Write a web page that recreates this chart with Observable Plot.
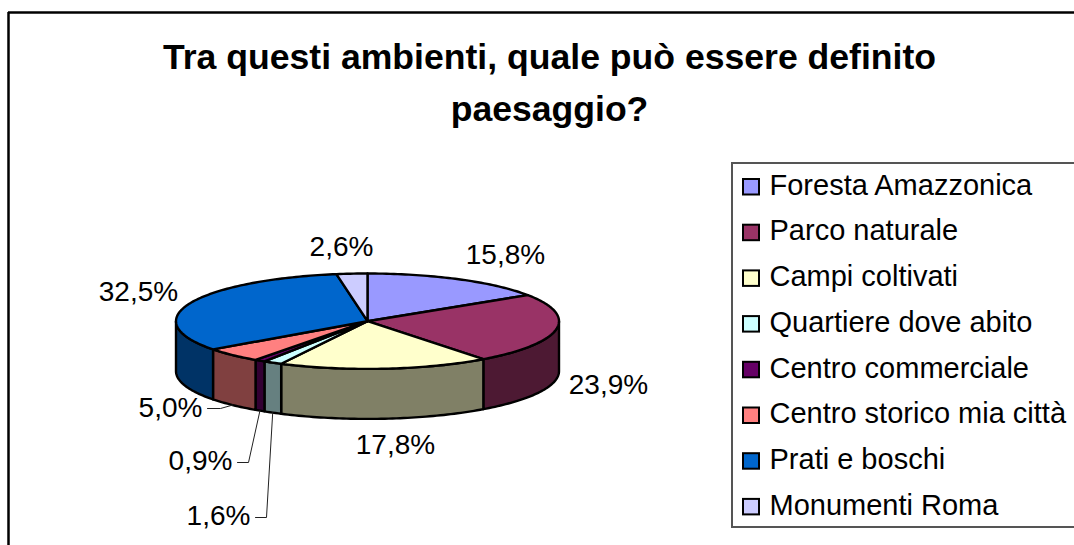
<!DOCTYPE html>
<html>
<head>
<meta charset="utf-8">
<script src="https://cdn.jsdelivr.net/npm/d3@7"></script>
<script src="https://cdn.jsdelivr.net/npm/@observablehq/plot@0.6"></script>
<style>
html,body{margin:0;padding:0;background:#fff;overflow:hidden}
svg{display:block}
</style>
</head>
<body>
<div id="chart"></div>
<script>
const titleLines = ["Tra questi ambienti, quale può essere definito", "paesaggio?"];
const categories = ["Foresta Amazzonica","Parco naturale","Campi coltivati","Quartiere dove abito","Centro commerciale","Centro storico mia città","Prati e boschi","Monumenti Roma"];
const values = [15.8, 23.9, 17.8, 1.6, 0.9, 5.0, 32.5, 2.6];
const topColors = ["#9999FF","#993366","#FFFFCC","#CCFFFF","#660066","#FF8080","#0066CC","#CCCCFF"];
const sideColors = ["#4D4D80","#4D1933","#808066","#668080","#330033","#804040","#003366","#666680"];

// layout of the picture (pixels)
const W = 1074, H = 545;
const pie = {cx: 367, cy: 320.7, rx: 191.5, ry: 47.7, depth: 50};
const labelX = [505, 608, 395, 218, 200, 170, 138, 341];
const labelY = [255, 385, 445, 516, 461, 408, 292, 247];
// leader elbow: [label end x, elbow x, y] for the three small slices that use one
const leaderElbows = {3: [255, 266, 517], 4: [237, 248, 462], 5: [207, 220, 408]};
const legendBox = {x1: 732, x2: 1090, y1: 163, y2: 527};
const legendRowY = i => 186 + i * 45.7;

const total = d3.sum(values);
const cum = d3.cumsum(values);
const start = i => (i === 0 ? 0 : cum[i - 1]) / total * 2 * Math.PI;
const end = i => cum[i] / total * 2 * Math.PI;
const px = t => pie.cx + pie.rx * Math.sin(t);
const py = (t, drop = 0) => pie.cy - pie.ry * Math.cos(t) + drop;
const arc = (a, b, drop = 0) => {
  const n = Math.max(2, Math.ceil((b - a) / 0.02));
  return d3.range(n + 1).map(k => {
    const t = a + (b - a) * k / n;
    return {x: px(t), y: py(t, drop)};
  });
};

const tops = [], sides = [];
values.forEach((v, i) => {
  const pts = [{x: pie.cx, y: pie.cy}, ...arc(start(i), end(i))];
  pts.forEach(p => tops.push({...p, name: categories[i], color: topColors[i]}));
  const a = Math.max(start(i), Math.PI / 2), b = Math.min(end(i), 3 * Math.PI / 2);
  if (b > a) {
    [...arc(a, b), ...arc(a, b, pie.depth).reverse()]
      .forEach(p => sides.push({...p, name: categories[i], color: sideColors[i]}));
  }
});

const leaders = [];
Object.entries(leaderElbows).forEach(([k, [x0, x1, y]]) => {
  const i = +k, t = (start(i) + end(i)) / 2;
  [{x: x0, y}, {x: x1, y}, {x: px(t), y: py(t, pie.depth)}]
    .forEach(p => leaders.push({...p, name: categories[i]}));
});

const labels = values.map((v, i) => ({
  text: v.toFixed(1).replace(".", ",") + "%", x: labelX[i], y: labelY[i]
}));
const legend = categories.map((name, i) => ({name, color: topColors[i], y: legendRowY(i)}));

const plot = Plot.plot({
  width: W, height: H,
  margin: 0,
  x: {domain: [0, W], range: [0, W], axis: null},
  y: {domain: [0, H], range: [0, H], axis: null},
  color: {type: "identity"},
  style: {fontFamily: "'Liberation Sans', Arial, sans-serif", background: "#fff", color: "#000"},
  marks: [
    Plot.ruleY([12], {x1: 8, x2: W, stroke: "#000", strokeWidth: 2.5}),
    Plot.ruleX([8], {y1: 12, y2: H, stroke: "#000", strokeWidth: 2.5}),
    Plot.text(titleLines, {
      text: d => d, x: 549, y: (d, i) => 57 + i * 52,
      fontSize: 35.6, fontWeight: "bold", fill: "#000"
    }),
    Plot.line(sides, {x: "x", y: "y", z: "name", fill: "color", stroke: "#000", strokeWidth: 2.4, strokeLinejoin: "round", curve: "linear-closed"}),
    Plot.line(tops, {x: "x", y: "y", z: "name", fill: "color", stroke: "#000", strokeWidth: 2.4, strokeLinejoin: "round", curve: "linear-closed"}),
    Plot.line(leaders, {x: "x", y: "y", z: "name", stroke: "#222", strokeWidth: 1}),
    Plot.text(labels, {x: "x", y: "y", text: "text", fontSize: 28, fill: "#000"}),
    Plot.rect([legendBox], {x1: "x1", x2: "x2", y1: "y1", y2: "y2", fill: "#fff", stroke: "#555", strokeWidth: 2}),
    Plot.rect(legend, {
      x1: () => 743, x2: () => 759, y1: d => d.y - 7, y2: d => d.y + 8.5,
      fill: "color", stroke: "#000", strokeWidth: 2
    }),
    Plot.text(legend, {
      x: () => 769, y: d => d.y - 1, text: "name", textAnchor: "start", fontSize: 29, fill: "#000"
    })
  ]
});
document.getElementById("chart").appendChild(plot);
</script>
</body>
</html>
